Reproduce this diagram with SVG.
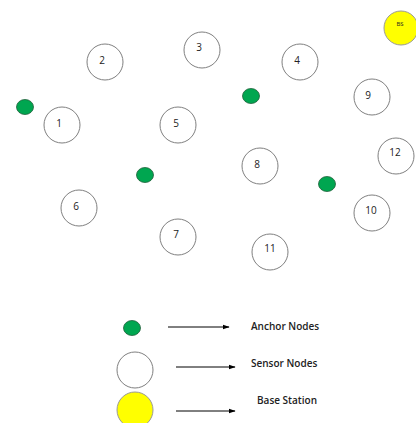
<svg xmlns="http://www.w3.org/2000/svg" width="416" height="423" viewBox="0 0 416 423">
<style>
.s{fill:#fff;stroke:#7f7f7f;stroke-width:1}
.a{fill:#00a650;stroke:#1f5f3a;stroke-width:0.8}
.b{fill:#ffff00;stroke:#9a9a9a;stroke-width:1}
.t{font-family:"Open Sans","Liberation Sans",sans-serif;font-size:10px;fill:#222;text-anchor:middle}
.l{font-family:"Open Sans","Liberation Sans",sans-serif;font-size:10px;fill:#222;font-weight:600}
.c{stroke:#000;stroke-width:1;fill:none;marker-end:url(#ah)}
</style>
<defs>
<marker id="ah" viewBox="0 0 10 10" refX="9" refY="5" markerWidth="7" markerHeight="7" markerUnits="userSpaceOnUse" orient="auto">
<path d="M0,1.5 L10,5 L0,8.5 z" fill="#000"/>
</marker>
</defs>
<rect width="416" height="423" fill="#fff"/>
<g id="bs"><circle class="b" cx="401" cy="28" r="17"/><text class="t" x="400" y="26" style="font-size:6px">BS</text></g>
<g id="n1"><circle class="s" cx="62" cy="125" r="18"/><text class="t" x="59" y="127">1</text></g>
<g id="n2"><circle class="s" cx="105" cy="62" r="18"/><text class="t" x="102" y="64">2</text></g>
<g id="n3"><circle class="s" cx="202" cy="50" r="18"/><text class="t" x="199" y="51">3</text></g>
<g id="n4"><circle class="s" cx="300" cy="62" r="18"/><text class="t" x="297" y="64">4</text></g>
<g id="n5"><circle class="s" cx="178" cy="125" r="18"/><text class="t" x="176" y="127">5</text></g>
<g id="n6"><circle class="s" cx="79" cy="208" r="18"/><text class="t" x="76" y="210">6</text></g>
<g id="n7"><circle class="s" cx="178" cy="237" r="18"/><text class="t" x="176" y="238">7</text></g>
<g id="n8"><circle class="s" cx="260" cy="166" r="18"/><text class="t" x="257" y="168">8</text></g>
<g id="n9"><circle class="s" cx="372" cy="97" r="18"/><text class="t" x="368" y="99">9</text></g>
<g id="n10"><circle class="s" cx="372" cy="213" r="18"/><text class="t" x="371" y="214">10</text></g>
<g id="n11"><circle class="s" cx="270" cy="252" r="18"/><text class="t" x="270" y="252">11</text></g>
<g id="n12"><circle class="s" cx="396" cy="156" r="18"/><text class="t" x="395" y="156">12</text></g>
<g id="a1"><ellipse class="a" cx="25" cy="107" rx="8.5" ry="7.5"/></g>
<g id="a2"><ellipse class="a" cx="251" cy="96" rx="8.5" ry="7.5"/></g>
<g id="a3"><ellipse class="a" cx="145" cy="175" rx="8.5" ry="7.5"/></g>
<g id="a4"><ellipse class="a" cx="327" cy="184" rx="8.5" ry="7.5"/></g>
<g id="legend-anchor"><ellipse class="a" cx="132" cy="328" rx="8.5" ry="7.5"/><text class="l" x="251" y="330">Anchor Nodes</text></g>
<g id="legend-sensor"><circle class="s" cx="135" cy="370" r="18"/><text class="l" x="251" y="367">Sensor Nodes</text></g>
<g id="legend-bs"><circle class="b" cx="135" cy="410" r="18"/><text class="l" x="257" y="404">Base Station</text></g>
<g id="connectors">
<line class="c" x1="168" y1="327" x2="229" y2="327"/>
<line class="c" x1="176" y1="367" x2="235" y2="367"/>
<line class="c" x1="176" y1="411" x2="235" y2="411"/>
</g>
</svg>
